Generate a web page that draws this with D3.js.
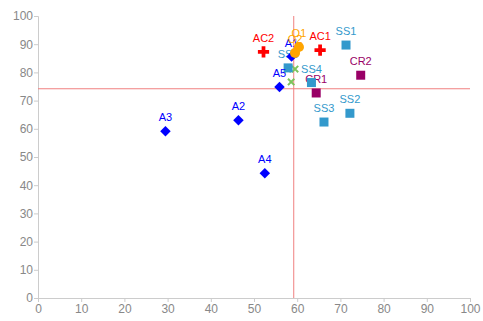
<!DOCTYPE html>
<html>
<head>
<meta charset="utf-8">
<script src="https://cdn.jsdelivr.net/npm/d3@7"></script>
<style>
  body { margin: 0; background: #fff; }
  text { font-family: Arial, "Liberation Sans", sans-serif; }
</style>
</head>
<body>
<div id="chart-area"></div>
<script>
// point groups: label, x, y
const aPoints = [
    ["A1", 58.7, 85.6], ["A2", 46.4, 63.0], ["A3", 29.5, 59.1],
    ["A4", 52.5, 44.2], ["A5", 55.9, 74.8]
]
const acPoints = [["AC1", 65.3, 87.9], ["AC2", 52.2, 87.3]]
const oPoints = [["O1", 60.4, 89.0], ["O2", 59.5, 86.9]]
const ssPoints = [
    ["SS1", 71.3, 89.7], ["SS2", 72.2, 65.5], ["SS3", 66.2, 62.4],
    ["SS4", 63.3, 76.4], ["SS5", 57.9, 81.6]
]
const crPoints = [["CR1", 64.4, 72.7], ["CR2", 74.7, 79.0]]
const greenPoints = [["", 57.8, 81.2], ["", 59.5, 81.2], ["", 58.6, 76.6]]
const refX = 59.2
const refY = 74.2
const ticks = [0, 10, 20, 30, 40, 50, 60, 70, 80, 90, 100]

const MARGIN = { left: 38, right: 13, top: 16, bottom: 23 }
const WIDTH = 483 - MARGIN.left - MARGIN.right
const HEIGHT = 321 - MARGIN.top - MARGIN.bottom

const svg = d3.select("#chart-area").append("svg")
    .attr("width", 483)
    .attr("height", 321)

const g = svg.append("g")
    .attr("transform", `translate(${MARGIN.left}, ${MARGIN.top})`)

const x = d3.scaleLinear().domain([0, 100]).range([0, WIDTH])
const y = d3.scaleLinear().domain([0, 100]).range([HEIGHT, 0])

const xAxis = g.append("g")
    .attr("transform", `translate(0, ${HEIGHT})`)
    .call(d3.axisBottom(x).tickValues(ticks).tickSize(4).tickPadding(2))
const yAxis = g.append("g")
    .call(d3.axisLeft(y).tickValues(ticks).tickSize(4).tickPadding(1))

for (const ax of [xAxis, yAxis]) {
    ax.select(".domain").attr("stroke", "#ccc")
    ax.selectAll(".tick line").attr("stroke", "#ccc")
    ax.selectAll(".tick text").attr("fill", "#888").attr("font-size", "12px")
}

// reference lines
g.append("line")
    .attr("x1", x(refX)).attr("x2", x(refX))
    .attr("y1", y(0)).attr("y2", y(100))
    .attr("stroke", "#f08080").attr("stroke-width", 1)
g.append("line")
    .attr("x1", x(0)).attr("x2", x(100))
    .attr("y1", y(refY)).attr("y2", y(refY))
    .attr("stroke", "#f08080").attr("stroke-width", 1)

function drawGroup(data, symbol, size, color, cls) {
    const grp = g.append("g").attr("class", cls)
    grp.selectAll("path")
        .data(data)
        .enter().append("path")
        .attr("transform", d => `translate(${x(d[1])}, ${y(d[2])})`)
        .attr("d", d3.symbol().type(symbol).size(size))
        .attr("fill", color)
    grp.selectAll("text")
        .data(data.filter(d => d[0]))
        .enter().append("text")
        .attr("x", d => x(d[1]))
        .attr("y", d => y(d[2]) - 10)
        .attr("text-anchor", "middle")
        .attr("font-size", "11px")
        .attr("fill", color)
        .text(d => d[0])
    return grp
}

drawGroup(greenPoints, d3.symbolX, 28, "#7dc35b", "green")
    .selectAll("path").attr("stroke", "#7dc35b").attr("stroke-width", 2)
drawGroup(crPoints, d3.symbolSquare, 81, "#990066", "cr")
drawGroup(ssPoints, d3.symbolSquare, 81, "#3399cc", "ss")
drawGroup(aPoints, d3.symbolDiamond2, 70, "#0000ff", "a")
drawGroup(acPoints, d3.symbolCross, 70, "#ff0000", "ac")
drawGroup(oPoints, d3.symbolCircle, 80, "#ffa500", "o")
</script>
</body>
</html>
